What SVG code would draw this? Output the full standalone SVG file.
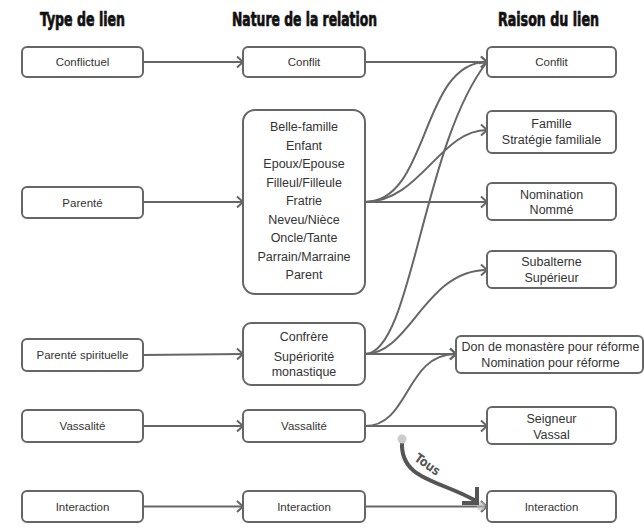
<svg xmlns="http://www.w3.org/2000/svg" width="644" height="530" viewBox="0 0 644 530">
<defs>
<style>
.box{fill:#fff;stroke:#666;stroke-width:2}
.t{font-family:"Liberation Sans",Arial,sans-serif;font-size:11.5px;fill:#333;text-anchor:middle}
.m{font-family:"Liberation Sans",Arial,sans-serif;font-size:12.5px;fill:#333;text-anchor:middle}
.h{font-family:"DejaVu Sans Condensed","DejaVu Sans",sans-serif;font-weight:bold;font-stretch:condensed;font-size:20px;fill:#111;stroke:#111;stroke-width:0.7;text-anchor:middle}
.c{fill:none;stroke:#666;stroke-width:2}
</style>
<marker id="arr" markerUnits="userSpaceOnUse" markerWidth="12" markerHeight="14" refX="10" refY="7" orient="auto" viewBox="0 0 12 14">
<path d="M4,1.5 L10,7 L4,12.5" fill="none" stroke="#666" stroke-width="2"/>
</marker>
</defs>
<rect width="644" height="530" fill="#fff"/>

<g id="headers">
<text class="h" x="82.5" y="25.5" textLength="85" lengthAdjust="spacingAndGlyphs">Type de lien</text>
<text class="h" x="304.5" y="25.5" textLength="145" lengthAdjust="spacingAndGlyphs">Nature de la relation</text>
<text class="h" x="548.5" y="25.5" textLength="101" lengthAdjust="spacingAndGlyphs">Raison du lien</text>
</g>

<g id="connectors">
<path class="c" d="M143,62 L243,62" marker-end="url(#arr)"/>
<path class="c" d="M143,202 L243,202" marker-end="url(#arr)"/>
<path class="c" d="M143,355 L243,354" marker-end="url(#arr)"/>
<path class="c" d="M143,426 L243,426" marker-end="url(#arr)"/>
<path class="c" d="M143,506.5 L243,506.5" marker-end="url(#arr)"/>
<path class="c" d="M365,62 L487,62" marker-end="url(#arr)"/>
<path class="c" d="M365,202 C430,202 420,62 487,62" marker-end="url(#arr)"/>
<path class="c" d="M365,202 C420,202 440,130 487,130" marker-end="url(#arr)"/>
<path class="c" d="M365,202 L487,202" marker-end="url(#arr)"/>
<path class="c" d="M365,354 C412,354 422,145 487,62" marker-end="url(#arr)"/>
<path class="c" d="M365,354 C410,354 425,270 487,270" marker-end="url(#arr)"/>
<path class="c" d="M365,354 L456,354" marker-end="url(#arr)"/>
<path class="c" d="M365,426 C410,426 405,354 456,354" marker-end="url(#arr)"/>
<path class="c" d="M365,426 L487,426" marker-end="url(#arr)"/>
<path class="c" d="M365,506.5 L487,506.5" marker-end="url(#arr)"/>
</g>

<g id="tous">
<circle cx="481" cy="506" r="4.5" fill="#bbb" opacity="0.6"/>
<path d="M402,442 C400,480 440,480 476,501" fill="none" stroke="#555" stroke-width="4"/>
<path d="M477,487 L477,503 L462,503" fill="none" stroke="#555" stroke-width="4"/>
<circle cx="402" cy="439" r="4.5" fill="#ccc"/>
<text x="0" y="0" transform="translate(425,468) rotate(35)" font-family="DejaVu Sans Condensed, DejaVu Sans, sans-serif" font-weight="bold" font-size="13" fill="#555" text-anchor="middle" textLength="28" lengthAdjust="spacingAndGlyphs">Tous</text>
</g>

<g id="l-conflictuel"><rect class="box" x="22" y="47" width="121" height="30" rx="5"/><text class="t" x="82.5" y="66">Conflictuel</text></g>
<g id="l-parente"><rect class="box" x="22" y="187" width="121" height="31" rx="5"/><text class="t" x="82.5" y="206.5">Parenté</text></g>
<g id="l-parente-spirituelle"><rect class="box" x="22" y="339" width="121" height="32" rx="5"/><text class="t" x="82.5" y="359">Parenté spirituelle</text></g>
<g id="l-vassalite"><rect class="box" x="22" y="410" width="121" height="32" rx="5"/><text class="t" x="82.5" y="430">Vassalité</text></g>
<g id="l-interaction"><rect class="box" x="22" y="491" width="121" height="31" rx="5"/><text class="t" x="82.5" y="510.5">Interaction</text></g>

<g id="m-conflit"><rect class="box" x="243" y="47" width="122" height="30" rx="5"/><text class="t" x="304" y="66">Conflit</text></g>
<g id="m-parente"><rect class="box" x="243" y="110" width="122" height="184" rx="12"/>
<text class="m" x="304" y="131">Belle-famille</text>
<text class="m" x="304" y="149.5">Enfant</text>
<text class="m" x="304" y="168">Epoux/Epouse</text>
<text class="m" x="304" y="186.5">Filleul/Filleule</text>
<text class="m" x="304" y="205">Fratrie</text>
<text class="m" x="304" y="223.5">Neveu/Nièce</text>
<text class="m" x="304" y="242">Oncle/Tante</text>
<text class="m" x="304" y="260.5">Parrain/Marraine</text>
<text class="m" x="304" y="279">Parent</text>
</g>
<g id="m-confrere"><rect class="box" x="243" y="323" width="122" height="62" rx="8"/>
<text class="m" x="304" y="341">Confrère</text>
<text class="m" x="304" y="361">Supériorité</text>
<text class="m" x="304" y="375.5">monastique</text>
</g>
<g id="m-vassalite"><rect class="box" x="243" y="410" width="122" height="32" rx="5"/><text class="t" x="304" y="430">Vassalité</text></g>
<g id="m-interaction"><rect class="box" x="243" y="491" width="122" height="31" rx="5"/><text class="t" x="304" y="510.5">Interaction</text></g>

<g id="r-conflit"><rect class="box" x="487" y="47" width="129" height="30" rx="5"/><text class="t" x="551.5" y="66">Conflit</text></g>
<g id="r-famille"><rect class="box" x="487" y="111" width="129" height="42" rx="5"/>
<text class="m" x="551.5" y="127.8">Famille</text>
<text class="m" x="551.5" y="143.5">Stratégie familiale</text>
</g>
<g id="r-nomination"><rect class="box" x="487" y="183" width="129" height="37" rx="5"/>
<text class="m" x="551.5" y="198.5">Nomination</text>
<text class="m" x="551.5" y="214">Nommé</text>
</g>
<g id="r-subalterne"><rect class="box" x="487" y="251" width="129" height="37" rx="5"/>
<text class="m" x="551.5" y="266">Subalterne</text>
<text class="m" x="551.5" y="282">Supérieur</text>
</g>
<g id="r-don"><rect class="box" x="456" y="336" width="187" height="37" rx="5"/>
<text class="m" x="550.5" y="350.5">Don de monastère pour réforme</text>
<text class="m" x="550.5" y="367">Nomination pour réforme</text>
</g>
<g id="r-seigneur"><rect class="box" x="487" y="407" width="129" height="37" rx="5"/>
<text class="m" x="551.5" y="423">Seigneur</text>
<text class="m" x="551.5" y="439">Vassal</text>
</g>
<g id="r-interaction"><rect class="box" x="487" y="491" width="129" height="31" rx="5"/><text class="t" x="551.5" y="510.5">Interaction</text></g>
</svg>
